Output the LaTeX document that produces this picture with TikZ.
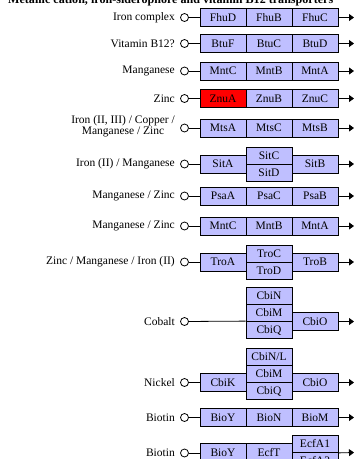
\documentclass[tikz,border=0pt]{standalone}
\usepackage{fontspec}
\setmainfont{Liberation Serif}
\usetikzlibrary{arrows.meta}
\definecolor{kegg}{HTML}{BFBFFF}
\definecolor{hit}{HTML}{FF0000}
\newcommand{\labfont}{\fontsize{11.5}{11}\selectfont}
\tikzset{
  gene/.style={draw, fill=kegg, minimum width=46pt, minimum height=18pt, inner sep=0pt, font=\labfont, line width=0.8pt},
  half/.style={gene, minimum height=17pt},
  cpd/.style={circle, draw, fill=white, minimum size=8pt, inner sep=0pt, line width=0.8pt},
  lab/.style={anchor=east, align=center, font=\labfont, inner sep=0pt},
  link/.style={line width=0.8pt},
  outarrow/.style={link, -{Triangle[width=7pt,length=5pt]}}
}
\begin{document}
\begin{tikzpicture}[x=1pt,y=-1pt]
\useasboundingbox (0,0) rectangle (355,459);
\clip (0,0) rectangle (355,459);
\fill[white] (0,0) rectangle (355,459);
% clipped heading
\node[anchor=base west, inner sep=0pt, font=\fontsize{12}{12}\selectfont\bfseries] (title) at (8,3.3)
  {\resizebox{325pt}{\height}{Metallic cation, iron-siderophore and vitamin B12 transporters}};

% row 1
\node[lab] (l1) at (175,17.5) {Iron complex};
\node[cpd] (c1) at (184.5,17.5) {};
\node[gene] (fhuD) at (223,17.5) {FhuD};
\node[gene] (fhuB) at (269,17.5) {FhuB};
\node[gene] (fhuC) at (315,17.5) {FhuC};
\coordinate (e1) at (354,17.5);
\draw[link] (c1) -- (fhuD);
\draw[outarrow] (fhuC) -- (e1);

% row 2
\node[lab] (l2) at (175,43.5) {Vitamin B12?};
\node[cpd] (c2) at (184.5,43.5) {};
\node[gene] (btuF) at (223,43.5) {BtuF};
\node[gene] (btuC) at (269,43.5) {BtuC};
\node[gene] (btuD) at (315,43.5) {BtuD};
\coordinate (e2) at (354,43.5);
\draw[link] (c2) -- (btuF);
\draw[outarrow] (btuD) -- (e2);

% row 3
\node[lab] (l3) at (175,71) {Manganese};
\node[cpd] (c3) at (184.5,71) {};
\node[gene] (mntC1) at (223,71) {MntC};
\node[gene] (mntB1) at (269,71) {MntB};
\node[gene] (mntA1) at (315,71) {MntA};
\coordinate (e3) at (354,71);
\draw[link] (c3) -- (mntC1);
\draw[outarrow] (mntA1) -- (e3);

% row 4
\node[lab] (l4) at (175,98.5) {Zinc};
\node[cpd] (c4) at (184.5,98.5) {};
\node[gene, fill=hit] (znuA) at (223,98.5) {ZnuA};
\node[gene] (znuB) at (269,98.5) {ZnuB};
\node[gene] (znuC) at (315,98.5) {ZnuC};
\coordinate (e4) at (354,98.5);
\draw[link] (c4) -- (znuA);
\draw[outarrow] (znuC) -- (e4);

% row 5
\node[lab] (l5) at (175,126) {Iron (II, III) / Copper /\\Manganese / Zinc};
\node[cpd] (c5) at (184.5,128) {};
\node[gene] (mtsA) at (223,128) {MtsA};
\node[gene] (mtsC) at (269,128) {MtsC};
\node[gene] (mtsB) at (315,128) {MtsB};
\coordinate (e5) at (354,128);
\draw[link] (c5) -- (mtsA);
\draw[outarrow] (mtsB) -- (e5);

% row 6
\node[lab] (l6) at (175,164) {Iron (II) / Manganese};
\node[cpd] (c6) at (184.5,164) {};
\node[gene] (sitA) at (223,164) {SitA};
\node[half] (sitC) at (269,155.5) {SitC};
\node[half] (sitD) at (269,172.5) {SitD};
\node[gene] (sitB) at (315,164) {SitB};
\coordinate (e6) at (354,164);
\draw[link] (c6) -- (sitA);
\draw[outarrow] (sitB) -- (e6);

% row 7
\node[lab] (l7) at (175,196) {Manganese / Zinc};
\node[cpd] (c7) at (184.5,196) {};
\node[gene] (psaA) at (223,196) {PsaA};
\node[gene] (psaC) at (269,196) {PsaC};
\node[gene] (psaB) at (315,196) {PsaB};
\coordinate (e7) at (354,196);
\draw[link] (c7) -- (psaA);
\draw[outarrow] (psaB) -- (e7);

% row 8
\node[lab] (l8) at (175,226) {Manganese / Zinc};
\node[cpd] (c8) at (184.5,226) {};
\node[gene] (mntC2) at (223,226) {MntC};
\node[gene] (mntB2) at (269,226) {MntB};
\node[gene] (mntA2) at (315,226) {MntA};
\coordinate (e8) at (354,226);
\draw[link] (c8) -- (mntC2);
\draw[outarrow] (mntA2) -- (e8);

% row 9
\node[lab] (l9) at (175,262) {Zinc / Manganese / Iron (II)};
\node[cpd] (c9) at (184.5,262) {};
\node[gene] (troA) at (223,262) {TroA};
\node[half] (troC) at (269,253.5) {TroC};
\node[half] (troD) at (269,270.5) {TroD};
\node[gene] (troB) at (315,262) {TroB};
\coordinate (e9) at (354,262);
\draw[link] (c9) -- (troA);
\draw[outarrow] (troB) -- (e9);

% row 10
\node[lab] (l10) at (175,321.5) {Cobalt};
\node[cpd] (c10) at (184.5,321.5) {};
\node[half] (cbiN1) at (269,296) {CbiN};
\node[half] (cbiM1) at (269,313) {CbiM};
\node[half] (cbiQ1) at (269,330) {CbiQ};
\node[gene] (cbiO1) at (315,321.5) {CbiO};
\coordinate (e10) at (354,321.5);
\draw[link] (c10) -- (cbiQ1.north west);
\draw[outarrow] (cbiO1) -- (e10);

% row 11
\node[lab] (l11) at (175,382.5) {Nickel};
\node[cpd] (c11) at (184.5,382.5) {};
\node[gene] (cbiK) at (223,382.5) {CbiK};
\node[half] (cbiNL) at (269,357) {CbiN/L};
\node[half] (cbiM2) at (269,374) {CbiM};
\node[half] (cbiQ2) at (269,391) {CbiQ};
\node[gene] (cbiO2) at (315,382.5) {CbiO};
\coordinate (e11) at (354,382.5);
\draw[link] (c11) -- (cbiK);
\draw[outarrow] (cbiO2) -- (e11);

% row 12
\node[lab] (l12) at (175,417.5) {Biotin};
\node[cpd] (c12) at (184.5,417.5) {};
\node[gene] (bioY1) at (223,417.5) {BioY};
\node[gene] (bioN) at (269,417.5) {BioN};
\node[gene] (bioM) at (315,417.5) {BioM};
\coordinate (e12) at (354,417.5);
\draw[link] (c12) -- (bioY1);
\draw[outarrow] (bioM) -- (e12);

% row 13
\node[lab] (l13) at (175,453) {Biotin};
\node[cpd] (c13) at (184.5,453) {};
\node[gene, minimum height=20pt] (bioY2) at (223,453) {BioY};
\node[gene, minimum height=20pt] (ecfT) at (269,453) {EcfT};
\node[half] (ecfA1) at (315,444) {EcfA1};
\node[half] (ecfA2) at (315,461) {EcfA2};
\coordinate (e13) at (354,452.5);
\draw[link] (c13) -- (bioY2);
\draw[outarrow] (ecfA1.south east) -- (e13);
\end{tikzpicture}
\end{document}
